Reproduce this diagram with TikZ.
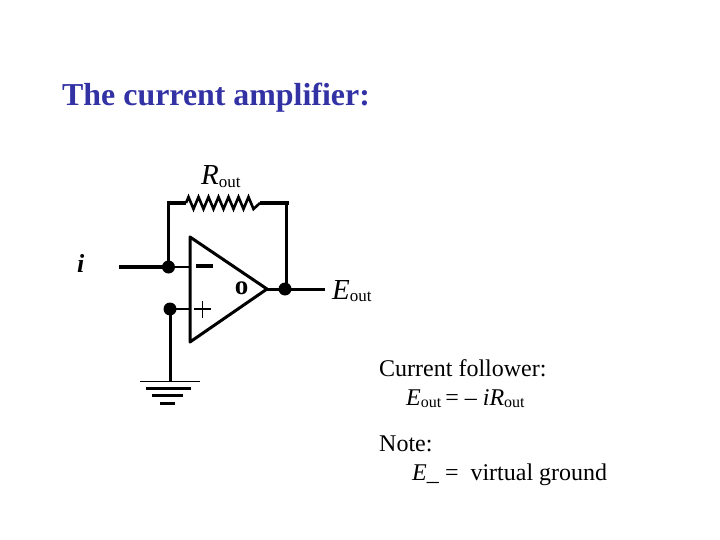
\documentclass[tikz,border=0pt]{standalone}
\usepackage{fontspec}
\setmainfont{Liberation Serif}
\definecolor{titleblue}{RGB}{50,50,165}
\tikzset{
  wire/.style={line width=2.2pt,line cap=butt,line join=miter},
  thick wire/.style={line width=3.3pt},
  dot/.style={circle,fill=black,inner sep=0pt,minimum size=13pt},
  body/.style={font=\fontsize{24}{24}\selectfont,anchor=base west,inner sep=0pt},
  lbl/.style={font=\fontsize{29}{29}\selectfont\itshape,anchor=base west,inner sep=0pt}
}
\newcommand{\subt}[1]{{\fontsize{16}{16}\selectfont\upshape\raisebox{-2pt}{#1}}}
\begin{document}
\begin{tikzpicture}[x=1pt,y=-1pt]
\useasboundingbox (0,0) rectangle (720,540);
\node[anchor=base west,inner sep=0pt,text=titleblue,font=\fontsize{31.9}{32}\selectfont\bfseries] (title) at (62,106) {The current amplifier:};

% op-amp
\coordinate (tl) at (190,237);
\coordinate (bl) at (190,342);
\coordinate (tip) at (267,289);
\draw[line width=3pt,line join=round] (tl) -- (tip) -- (bl) -- cycle;
\node[font=\fontsize{27}{27}\selectfont\bfseries,inner sep=0pt] (o) at (241.5,288) {o};

% junctions
\node[dot] (nin) at (168.5,267) {};
\node[dot] (npl) at (170,309) {};
\node[dot] (nout) at (285,289) {};

% free ends
\coordinate (iend) at (119,267);
\coordinate (oend) at (325,289);
\coordinate (ftl) at (168.5,203);
\coordinate (ftr) at (289,203);
\coordinate (fbr) at (286.5,203);
\coordinate (gnd) at (170,381);
\coordinate (rl) at (186,203);
\coordinate (rr) at (260,203);
\coordinate (nm) at (190,267);
\coordinate (np) at (190,309);

% wires
\draw[line width=4pt] (iend) -- (nin.center);
\draw[wire] (nin.center) -- (nm);
\draw[wire] (npl.center) -- (np);
\draw[thick wire] (nin.center) -- (ftl) -- (rl);
\draw[thick wire] (rr) -- (ftr);
\draw[wire,line width=2.6pt] (fbr) -- (fbr |- nout);
\draw[wire,line width=3pt] (tip) -- (nout.center) -- (oend);
\draw[wire,line width=3pt] (npl.center) -- (gnd);

% resistor
\draw[line width=2.6pt,line join=miter] (rl)
  -- ++(2.5,-6) -- ++(5,12) -- ++(5,-12) -- ++(5,12) -- ++(5,-12) -- ++(5,12)
  -- ++(5,-12) -- ++(5,12) -- ++(5,-12) -- ++(5,12) -- ++(5,-12) -- ++(5,12)
  -- ++(5,-12) -- ++(5,12) -- (rr);

% signs
\draw[line width=3.2pt] (196,266) -- (213,266);
\draw[wire,line width=1.8pt] (194,309) -- (211,309);
\draw[wire,line width=1.8pt] (202.5,301) -- (202.5,318);

% ground
\draw[wire,line width=1.8pt] (140,381.5) -- (200,381.5);
\draw[wire,line width=3pt] (146,388) -- (191,388);
\draw[wire,line width=3pt] (152,395) -- (183,395);
\draw[wire,line width=3pt] (160,403) -- (175,403);

% labels
\node[lbl] (li) at (77,272) {\fontsize{26}{26}\selectfont\bfseries i};
\node[lbl] (lr) at (201,185) {R{\fontsize{17}{17}\selectfont\upshape\raisebox{-3pt}{out}}};
\node[lbl] (le) at (332,299) {E\subt{\fontsize{17}{17}\selectfont out}};

\node[body] (t1) at (379,376) {Current follower:};
\node[body] (t2) at (406,405) {\textit{E}\subt{out}\,= -- \textit{iR}\subt{out}};
\node[body] (t3) at (379,451) {Note:};
\node[body] (t4) at (412,480) {\textit{E\_} =\ \ virtual ground};
\end{tikzpicture}
\end{document}
